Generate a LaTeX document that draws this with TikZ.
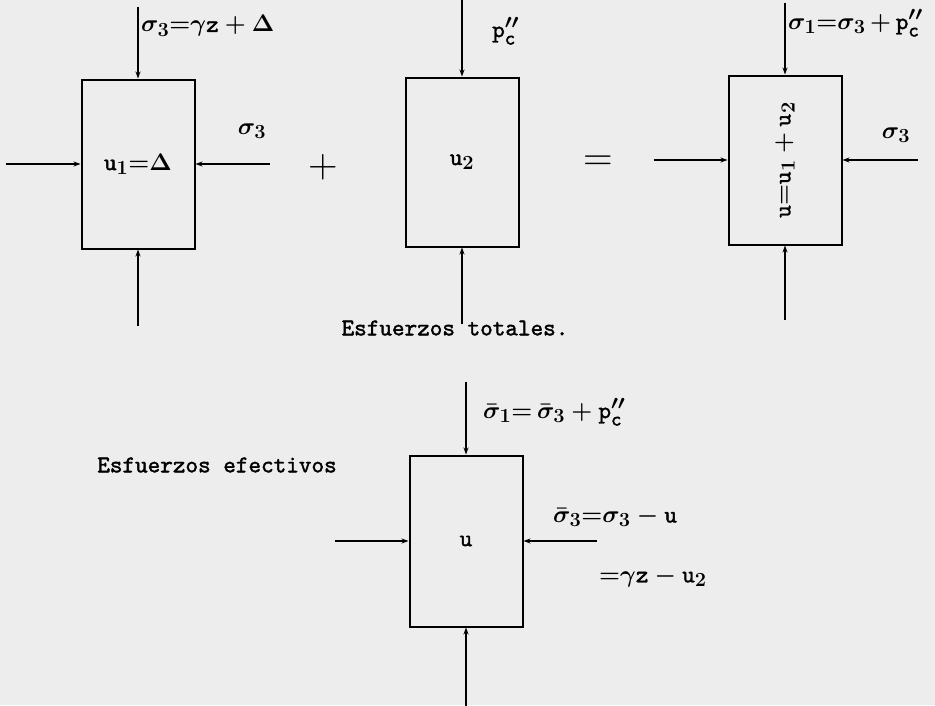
\documentclass[tikz,border=0pt]{standalone}
\usepackage{fix-cm}
\usepackage{fontspec}
\setmonofont{lmmono10-regular.otf}[FakeBold=1.6]
\usetikzlibrary{positioning,arrows.meta}
\DeclareMathSizes{24}{24}{20}{16}
\newcommand{\tw}{\fontsize{24}{28}\selectfont\ttfamily}
\newcommand{\mw}{\fontsize{24}{28}\selectfont\ttfamily\boldmath}

\begin{document}
\begin{tikzpicture}
 [x=1pt, y=-1pt,
  box/.style={draw, line width=2pt, minimum width=113pt, minimum height=169pt, inner sep=0pt, font=\mw},
  load/.style={line width=1.6pt, -{Stealth[length=7pt,width=5pt]}},
  text node/.style={font=\tw, inner sep=0pt},
  math node/.style={font=\mw, inner sep=0pt},
  sign node/.style={font=\fontsize{41}{41}\selectfont, inner sep=0pt}]

\fill[black!7] (0,0) rectangle (935,705);
\useasboundingbox (0,0) rectangle (935,705);

% total stresses
\node[box] (1) at (138,164) {$\mathtt{u}_1{=}\Delta$};
\node[box] (2) at (462,162) {$\mathtt{u}_2$};
\node[box] (3) at (785,160) {};
\node[box, minimum height=171pt] (4) at (466,541) {$\mathtt{u}$};

\coordinate[above=72pt of 1.north] (top1);
\coordinate[below=76pt of 1.south] (bot1);
\coordinate[left=75pt of 1.west] (left1);
\coordinate[right=74pt of 1.east] (right1);

\coordinate[above=78pt of 2.north] (top2);
\coordinate[below=76pt of 2.south] (bot2);

\coordinate[above=72pt of 3.north] (top3);
\coordinate[below=74pt of 3.south] (bot3);
\coordinate[left=74pt of 3.west] (left3);
\coordinate[right=75pt of 3.east] (right3);

\coordinate[above=73pt of 4.north] (top4);
\coordinate[below=78pt of 4.south] (bot4);
\coordinate[left=74pt of 4.west] (left4);
\coordinate[right=73pt of 4.east] (right4);

\path
  (top1) edge [load] (1.north)
  (bot1) edge [load] (1.south)
  (left1) edge [load] (1.west)
  (right1) edge [load] (1.east)
  (top2) edge [load] (2.north)
  (bot2) edge [load] (2.south)
  (top3) edge [load] (3.north)
  (bot3) edge [load] (3.south)
  (left3) edge [load] (3.west)
  (right3) edge [load] (3.east)
  (top4) edge [load] (4.north)
  (bot4) edge [load] (4.south)
  (left4) edge [load] (4.west)
  (right4) edge [load] (4.east);

\node[math node, rotate=90] (u3) at (3.center) {$\mathtt{u}{=}\mathtt{u}_1+\mathtt{u}_2$};

\node[math node, anchor=west] (s1) at (141,26) {$\sigma_3{=}\gamma\mathtt{z}+\Delta$};
\node[math node] (s2) at (252,131) {$\sigma_3$};
\node[sign node] (plus) at (323,167) {$+$};
\node[math node, anchor=west] (pc) at (492,31) {$\mathtt{p}''_{\mathtt{c}}$};
\node[sign node] (eq) at (598,163) {$=$};
\node[math node, anchor=west] (s3) at (788,23) {$\sigma_1{=}\sigma_3\,{+}\,\mathtt{p}''_{\mathtt{c}}$};
\node[math node] (s4) at (896,135) {$\sigma_3$};
\node[text node] (tot) at (455,328) {Esfuerzos totales.};

% effective stresses
\node[text node] (efe) at (217,465) {Esfuerzos efectivos};
\node[math node, anchor=west] (s5) at (483,412) {$\bar\sigma_1{=}\,\bar\sigma_3+\mathtt{p}''_{\mathtt{c}}$};
\node[math node, anchor=west] (s6) at (553,517) {$\bar\sigma_3{=}\sigma_3-\mathtt{u}$};
\node[math node, anchor=west] (s7) at (599,577) {${=}\gamma\mathtt{z}-\mathtt{u}_2$};

\end{tikzpicture}
\end{document}
